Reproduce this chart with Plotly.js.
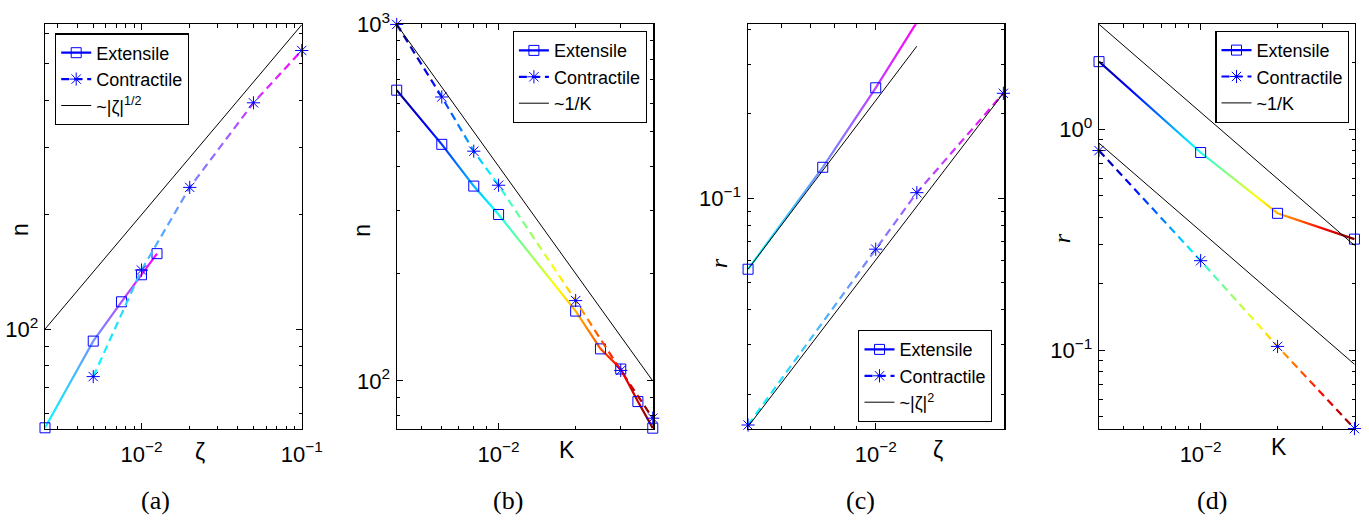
<!DOCTYPE html>
<html><head><meta charset="utf-8">
<script src="https://cdn.plot.ly/plotly-3.0.1.min.js"></script>
<style>html,body{margin:0;padding:0;background:#fff;} #chart{width:1369px;height:525px;}</style>
</head><body><div id="chart"></div>
<script>
// ---------- Panel (a): n vs zeta ----------
const aZetaExt = [0.0025, 0.005, 0.0075, 0.01, 0.0125];
const aNExt    = [55, 93, 118, 139, 158];
const aZetaCon = [0.005, 0.01, 0.02, 0.05, 0.1];
const aNCon    = [75, 143, 236, 394, 541];
const aRefZeta = [0.0025, 0.1];
const aRefN    = [100, 632];

// ---------- Panel (b): n vs K ----------
const bKExt = [0.004, 0.006, 0.008, 0.01, 0.02, 0.025, 0.03, 0.035, 0.04];
const bNExt = [654, 461, 352, 293, 157, 123, 108, 87.5, 73.7];
const bKCon = [0.004, 0.006, 0.008, 0.01, 0.02, 0.03, 0.04];
const bNCon = [1000, 626, 441, 354, 168, 107, 78.6];
const bRefK = [0.004, 0.04];
const bRefN = [1000, 100];

// ---------- Panel (c): r vs zeta ----------
const cZetaExt = [0.005, 0.0075, 0.01, 0.0125];
const cRExt    = [0.0558, 0.129, 0.248, 0.425];
const cZetaCon = [0.005, 0.01, 0.0125, 0.02];
const cRCon    = [0.0155, 0.0658, 0.1047, 0.237];
const cRefZetaUp = [0.005, 0.0125];
const cRefRUp    = [0.0558, 0.349];
const cRefZetaLo = [0.005, 0.02];
const cRefRLo    = [0.0153, 0.237];

// ---------- Panel (d): r vs K ----------
const dKExt = [0.004, 0.01, 0.02, 0.04];
const dRExt = [2.02, 0.784, 0.416, 0.318];
const dKCon = [0.004, 0.01, 0.02, 0.04];
const dRCon = [0.80, 0.254, 0.104, 0.0442];
const dRefK   = [0.004, 0.04];
const dRefRUp = [2.98, 0.298];
const dRefRLo = [0.864, 0.0864];

// ---------- tick labels ----------
const aXTickVals = [0.01, 0.1];   const aXTickText = ['10<sup>\u22122</sup>', '10<sup>\u22121</sup>'];
const aYTickVals = [100];         const aYTickText = ['10<sup>2</sup>'];
const bXTickVals = [0.01];        const bXTickText = ['10<sup>\u22122</sup>'];
const bYTickVals = [100, 1000];   const bYTickText = ['10<sup>2</sup>', '10<sup>3</sup>'];
const cXTickVals = [0.01];        const cXTickText = ['10<sup>\u22122</sup>'];
const cYTickVals = [0.1];         const cYTickText = ['10<sup>\u22121</sup>'];
const dXTickVals = [0.01];        const dXTickText = ['10<sup>\u22122</sup>'];
const dYTickVals = [0.1, 1];      const dYTickText = ['10<sup>\u22121</sup>', '10<sup>0</sup>'];

const legendExt = 'Extensile';
const legendCon = 'Contractile';
const legendRefA = '~|\u03b6|<sup>1/2</sup>';
const legendRefB = '~1/K';
const legendRefC = '~|\u03b6|<sup>2</sup>';
const legendRefD = '~1/K';
const captions = ['(a)', '(b)', '(c)', '(d)'];

// ---------- layout helpers ----------
const W = 1369, H = 525;
const SANS = 'Liberation Sans, Arial, Helvetica, sans-serif';
const SERIF = 'Liberation Serif, DejaVu Serif, serif';
const BLUE = 'rgb(0,0,255)';

function minorVals(lo, hi) {
  const v = [];
  for (let e = Math.floor(Math.log10(lo)) - 1; e <= Math.ceil(Math.log10(hi)); e++)
    for (let m = 2; m <= 9; m++) {
      const t = m * Math.pow(10, e);
      if (t >= lo * 0.999 && t <= hi * 1.001) v.push(t);
    }
  return v;
}
function px2domX(a, b) { return [a / W, b / W]; }
const yDom = [1 - 429 / H, 1 - 24.3 / H];

function axis(dom, lim, tv, tt, anchor, isX) {
  return {
    type: 'log', domain: dom, range: [Math.log10(lim[0]), Math.log10(lim[1])],
    tickmode: 'array', tickvals: tv, ticktext: tt,
    ticks: 'inside', ticklen: 6, tickwidth: 1, tickcolor: '#000',
    showline: true, linecolor: '#000', linewidth: 1.2, mirror: 'ticks',
    showgrid: false, zeroline: false, anchor: anchor, fixedrange: true,
    ticklabelstandoff: isX ? 5 : 1,
    tickfont: { family: SANS, size: 22, color: '#000' },
    minor: { tickmode: 'array', tickvals: minorVals(lim[0], lim[1]), ticks: 'inside', ticklen: 3.5, tickwidth: 1, tickcolor: '#000', showgrid: false }
  };
}

const layout = {
  width: W, height: H, margin: { l: 0, r: 0, t: 0, b: 0 },
  paper_bgcolor: '#fff', plot_bgcolor: '#fff', showlegend: true,
  font: { family: SANS, color: '#000' },
  xaxis:  axis(px2domX(45, 302),      [0.0025, 0.1004],  aXTickVals, aXTickText, 'y', true),
  yaxis:  axis(yDom,                  [54.6, 634],       aYTickVals, aYTickText, 'x', false),
  xaxis2: axis(px2domX(396.7, 653.3), [0.004, 0.0402],   bXTickVals, bXTickText, 'y2', true),
  yaxis2: axis(yDom,                  [73.3, 1001],      bYTickVals, bYTickText, 'x2', false),
  xaxis3: axis(px2domX(747.7, 1004.3),[0.00499, 0.0201], cXTickVals, cXTickText, 'y3', true),
  yaxis3: axis(yDom,                  [0.015, 0.418],    cYTickVals, cYTickText, 'x3', false),
  xaxis4: axis(px2domX(1099, 1355),   [0.004, 0.0402],   dXTickVals, dXTickText, 'y4', true),
  yaxis4: axis(yDom,                  [0.0440, 2.98],    dYTickVals, dYTickText, 'x4', false),
  annotations: [],
};

function legendCfg(x, y, xanchor, yanchor) {
  return { x: x / W, y: 1 - y / H, xanchor: xanchor, yanchor: yanchor, xref: 'paper', yref: 'paper',
    bgcolor: '#fff', bordercolor: '#000', borderwidth: 1.2, tracegroupgap: 0, itemwidth: 30,
    font: { family: SANS, size: 18, color: '#000' } };
}
layout.legend  = legendCfg(55, 33.3, 'left', 'top');
layout.legend2 = legendCfg(646.7, 31, 'right', 'top');
layout.legend3 = legendCfg(992.3, 330, 'right', 'top');
layout.legend4 = legendCfg(1349.3, 30.7, 'right', 'top');

function ann(text, x, y, opts) {
  layout.annotations.push(Object.assign({ text: text, x: x / W, y: 1 - y / H, xref: 'paper', yref: 'paper',
    showarrow: false, xanchor: 'center', yanchor: 'middle', font: { family: SANS, size: 23, color: '#000' } }, opts || {}));
}
// axis titles
ann('\u03b6', 200, 452);
ann('K', 566.7, 450);
ann('\u03b6', 938.3, 450);
ann('K', 1279.3, 447);
ann('n', 20, 230, { textangle: -90 });
ann('n', 361.7, 230, { textangle: -90 });
ann('<i>r</i>', 719.3, 263, { textangle: -90, font: { family: SERIF, size: 24, color: '#000' } });
ann('<i>r</i>', 1062.3, 238, { textangle: -90, font: { family: SERIF, size: 24, color: '#000' } });
// captions
const capX = [155, 508, 860, 1212];
captions.forEach((c, i) => ann(c, capX[i], 500, { font: { family: SERIF, size: 26, color: '#000' } }));

// ---------- traces ----------
const JET = [[0, '#00008f'], [0.125, '#0000ff'], [0.375, '#00ffff'], [0.625, '#ffff00'], [0.875, '#ff0000'], [1, '#800000']];
const COOL = [[0, '#00ffff'], [1, '#ff00ff']];

function refTrace(x, y, xa, ya, leg, name, show) {
  return { type: 'scatter', mode: 'lines', x: x, y: y, xaxis: xa, yaxis: ya, legend: leg, name: name,
    showlegend: show, line: { color: '#000', width: 1 }, cliponaxis: false, hoverinfo: 'skip' };
}
function extTrace(x, y, xa, ya, leg, cmap) {
  return { type: 'scatter', mode: 'lines+markers', x: x, y: y, xaxis: xa, yaxis: ya, legend: leg, name: legendExt,
    meta: cmap, line: { color: BLUE, width: 2.2 }, cliponaxis: false, hoverinfo: 'skip',
    marker: { symbol: 'square-open', size: 10, color: BLUE, line: { color: BLUE, width: 1 } } };
}
function conTrace(x, y, xa, ya, leg, cmap) {
  return { type: 'scatter', mode: 'lines+markers', x: x, y: y, xaxis: xa, yaxis: ya, legend: leg, name: legendCon,
    meta: cmap, line: { color: BLUE, width: 2.2, dash: '8px,5px' }, cliponaxis: false, hoverinfo: 'skip',
    marker: { symbol: 'asterisk-open', size: 11, color: BLUE, line: { color: BLUE, width: 1 } } };
}

const data = [
  extTrace(aZetaExt, aNExt, 'x', 'y', 'legend', 'cool'),
  conTrace(aZetaCon, aNCon, 'x', 'y', 'legend', 'cool'),
  refTrace(aRefZeta, aRefN, 'x', 'y', 'legend', legendRefA, true),

  extTrace(bKExt, bNExt, 'x2', 'y2', 'legend2', 'jet'),
  conTrace(bKCon, bNCon, 'x2', 'y2', 'legend2', 'jet'),
  refTrace(bRefK, bRefN, 'x2', 'y2', 'legend2', legendRefB, true),

  extTrace(cZetaExt, cRExt, 'x3', 'y3', 'legend3', 'cool'),
  conTrace(cZetaCon, cRCon, 'x3', 'y3', 'legend3', 'cool'),
  refTrace(cRefZetaLo, cRefRLo, 'x3', 'y3', 'legend3', legendRefC, true),
  refTrace(cRefZetaUp, cRefRUp, 'x3', 'y3', 'legend3', legendRefC, false),

  extTrace(dKExt, dRExt, 'x4', 'y4', 'legend4', 'jet'),
  conTrace(dKCon, dRCon, 'x4', 'y4', 'legend4', 'jet'),
  refTrace(dRefK, dRefRUp, 'x4', 'y4', 'legend4', legendRefD, true),
  refTrace(dRefK, dRefRLo, 'x4', 'y4', 'legend4', legendRefD, false),
];

// colour each data line along its length with its colormap (paint only; geometry comes from Plotly)
function applyGradients(gd) {
  const svg = gd.querySelector('svg.main-svg');
  let defs = svg.querySelector('defs');
  if (!defs) { defs = document.createElementNS('http://www.w3.org/2000/svg', 'defs'); svg.insertBefore(defs, svg.firstChild); }
  let k = 0;
  gd.querySelectorAll('.scatterlayer g.trace').forEach(g => {
    const cd = g.__data__;
    const tr = cd && cd[0] && cd[0].trace;
    if (!tr) return;
    const cm = tr.meta || (tr._input && tr._input.meta);
    if (cm !== 'jet' && cm !== 'cool') return;
    const stops = cm === 'jet' ? JET : COOL;
    const id = 'lineGrad' + (k++);
    const lg = document.createElementNS('http://www.w3.org/2000/svg', 'linearGradient');
    lg.setAttribute('id', id);
    lg.setAttribute('x1', '0'); lg.setAttribute('y1', '0');
    lg.setAttribute('x2', '1'); lg.setAttribute('y2', '0');
    stops.forEach(s => {
      const st = document.createElementNS('http://www.w3.org/2000/svg', 'stop');
      st.setAttribute('offset', String(s[0]));
      st.setAttribute('stop-color', s[1]);
      lg.appendChild(st);
    });
    defs.appendChild(lg);
    g.querySelectorAll('path.js-line').forEach(p => { p.style.stroke = 'url(#' + id + ')'; });
  });
}

const gd = document.getElementById('chart');
Plotly.newPlot(gd, data, layout, { staticPlot: true, displayModeBar: false }).then(() => applyGradients(gd));
</script>
</body></html>
